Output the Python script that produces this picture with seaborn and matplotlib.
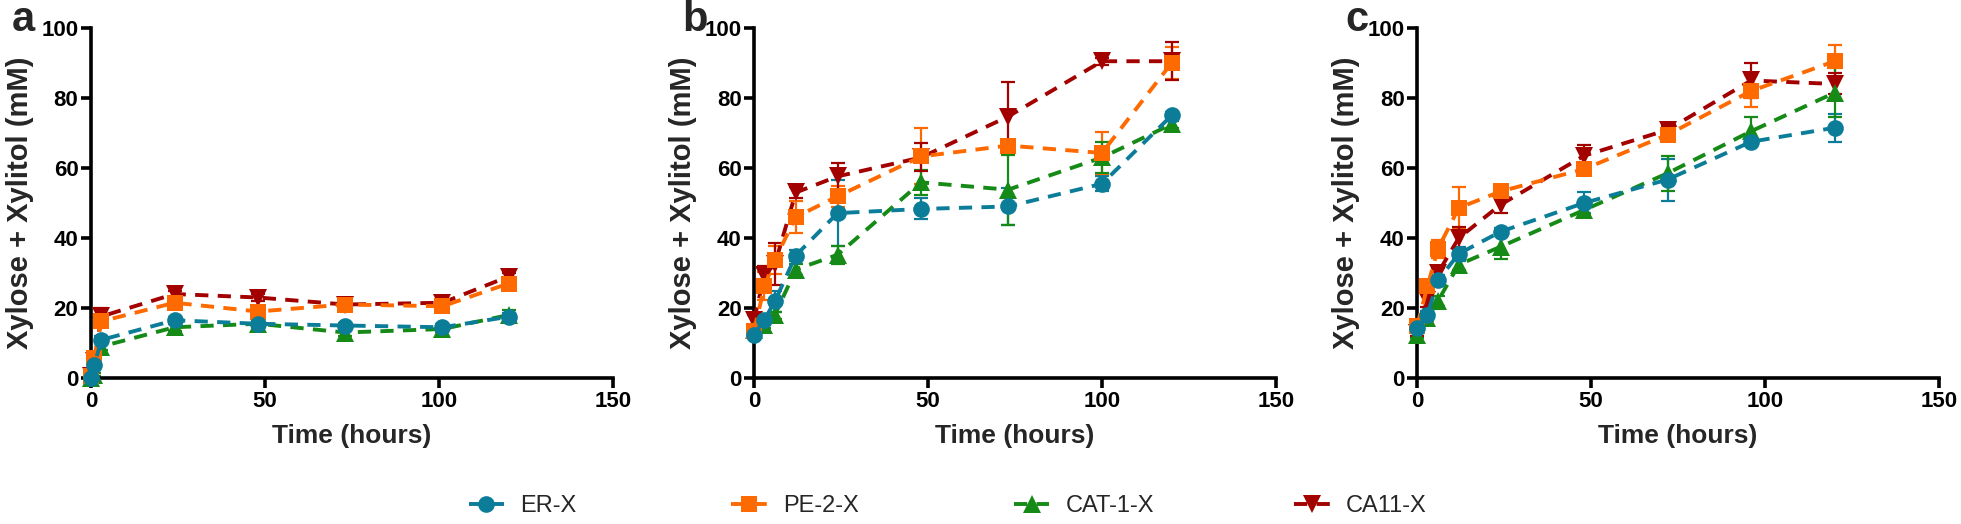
import pandas as pd
import seaborn as sns
import matplotlib.pyplot as plt
from matplotlib.lines import Line2D

# panel a
a_time = [0, 1, 3, 24, 48, 73, 101, 120]
a_er = [0, 3.8, 10.9, 16.5, 15.5, 15, 14.5, 17.5]
a_er_sd = [0.5, 2.5, 1, 0.8, 0.8, 0.8, 0.8, 1]
a_pe = [0.5, 5.7, 16.2, 21.5, 19, 21, 20.5, 27]
a_pe_sd = [0.5, 1, 1, 0.8, 1.2, 0.8, 0.8, 1]
a_cat = [0, 1, 9, 14.5, 15.5, 13, 14, 18]
a_cat_sd = [0.3, 0.5, 1, 1, 0.8, 1, 0.8, 1.5]
a_ca = [0.5, 5, 17.6, 24, 23, 21, 21.5, 29]
a_ca_sd = [0.3, 1, 2.5, 1, 1, 0.8, 1, 1]

# panel b
b_time = [0, 3, 6, 12, 24, 48, 73, 100, 120]
b_er = [12.4, 16.7, 21.9, 35, 47.1, 48.3, 49, 55.5, 75]
b_er_sd = [1, 1.5, 3, 1.5, 9.5, 3, 5.2, 2.2, 1]
b_pe = [13.5, 26.2, 33.8, 46, 51.9, 63.3, 66.4, 64.3, 90]
b_pe_sd = [1.5, 4, 4, 4.5, 3, 8, 1.5, 6, 4.5]
b_cat = [13.8, 15.2, 18, 31, 35.2, 55.9, 53.8, 63, 72.5]
b_cat_sd = [1, 1, 1, 1.5, 2.5, 3.5, 10, 4.5, 1]
b_ca = [16.5, 29.5, 32.5, 53, 57.6, 63, 74.7, 90.5, 90.5]
b_ca_sd = [1.5, 2.5, 6, 1.5, 3.8, 4, 10, 1, 5.5]

# panel c
c_time = [0, 3, 6, 12, 24, 48, 72, 96, 120]
c_er = [14.3, 18.1, 27.9, 35.5, 41.8, 50, 56.7, 67.5, 71.5]
c_er_sd = [1.5, 1, 1.5, 2, 1, 3, 6, 1, 4]
c_pe = [14.8, 26.2, 36.9, 48.6, 53.3, 59.7, 69.5, 82, 90.5]
c_pe_sd = [1, 1.5, 2.5, 6, 1, 1, 1, 4.5, 4.5]
c_cat = [12.4, 17.2, 22, 32.4, 37.5, 48, 58.5, 70.5, 81.5]
c_cat_sd = [1, 1, 1.5, 1.5, 3.5, 1.5, 5, 4, 7]
c_ca = [13, 22.4, 30, 40, 49.5, 63.5, 70.9, 85, 84]
c_ca_sd = [1, 2, 1.5, 3, 2.5, 3, 1, 5, 3]

strains = ["ER-X", "PE-2-X", "CAT-1-X", "CA11-X"]
draw_order = ["CA11-X", "CAT-1-X", "PE-2-X", "ER-X"]
colors = {"ER-X": "#0B7D98", "PE-2-X": "#FF6A00", "CAT-1-X": "#168A16", "CA11-X": "#A30000"}
markers = {"ER-X": "o", "PE-2-X": "s", "CAT-1-X": "^", "CA11-X": "v"}
msizes = {"ER-X": 12, "PE-2-X": 11.5, "CAT-1-X": 12.5, "CA11-X": 12.5}
dash = (3.4, 2.4)

panels = [
    ("a", a_time, [a_er, a_pe, a_cat, a_ca], [a_er_sd, a_pe_sd, a_cat_sd, a_ca_sd]),
    ("b", b_time, [b_er, b_pe, b_cat, b_ca], [b_er_sd, b_pe_sd, b_cat_sd, b_ca_sd]),
    ("c", c_time, [c_er, c_pe, c_cat, c_ca], [c_er_sd, c_pe_sd, c_cat_sd, c_ca_sd]),
]

sns.set_style("ticks")
plt.rcParams['font.family'] = ['Liberation Sans', 'DejaVu Sans']

fig = plt.figure(figsize=(19.61, 5.24), dpi=100)
lefts = [0.0464, 0.3845, 0.7226]
letter_x = [0.006, 0.348, 0.686]

for (letter, t, means, sds), left, lx in zip(panels, lefts, letter_x):
    ax = fig.add_axes([left, 0.2786, 0.2662, 0.668])

    rows = []
    for s, m in zip(strains, means):
        for ti, v in zip(t, m):
            rows.append({"time": ti, "value": v, "strain": s})
    df = pd.DataFrame(rows)

    # error bars under the markers
    for s, m, sd in zip(strains, means, sds):
        ax.errorbar(t, m, yerr=sd, fmt="none", ecolor=colors[s], elinewidth=1.6,
                    capsize=5, capthick=1.6, clip_on=False, zorder=1.5)

    for s in draw_order:
        sns.lineplot(data=df[df["strain"] == s], x="time", y="value", color=colors[s],
                     marker=markers[s], markersize=msizes[s], markeredgewidth=0,
                     linewidth=2.8, ax=ax, clip_on=False, zorder=3)
        ax.lines[-1].set_dashes(dash)

    ax.set_xlim(0, 150)
    ax.set_ylim(0, 100)
    ax.set_xticks([0, 50, 100, 150])
    ax.set_yticks(range(0, 101, 20))
    sns.despine(ax=ax)
    for sp in ["left", "bottom"]:
        ax.spines[sp].set_linewidth(2.6)
        ax.spines[sp].set_color("black")
    ax.tick_params(width=2.6, length=7, labelsize=16, pad=2, colors="black")
    for lab in ax.get_xticklabels() + ax.get_yticklabels():
        lab.set_fontweight("bold")
    ax.set_xlabel("Time (hours)", fontsize=19, fontweight="bold", labelpad=9)
    ax.set_ylabel("Xylose + Xylitol (mM)", fontsize=21, fontweight="bold", labelpad=5)

    fig.text(lx, 0.94, letter, fontsize=30, fontweight="bold", va="baseline")

# legend, one entry per slot
leg_x = [0.239, 0.373, 0.517, 0.660]
for s, x in zip(strains, leg_x):
    h = Line2D([], [], color=colors[s], marker=markers[s], markersize=msizes[s],
               markeredgewidth=0, linewidth=2.8, dashes=dash)
    fig.legend(handles=[h], labels=[s], loc="center left", bbox_to_anchor=(x, 0.034),
               frameon=False, fontsize=17, handlelength=1.5, handletextpad=0.7,
               borderpad=0, borderaxespad=0)

fig.savefig("out.png", dpi=100)
